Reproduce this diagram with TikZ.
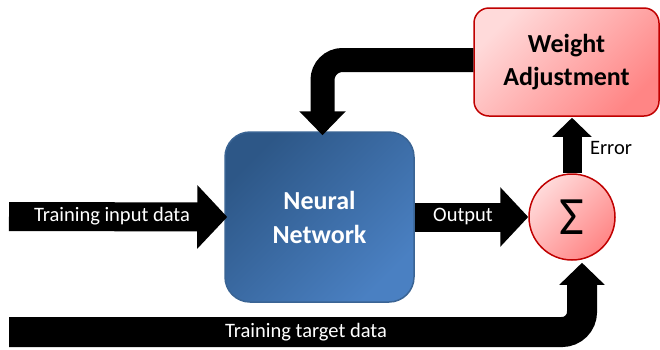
\documentclass[tikz,border=0pt]{standalone}
\usepackage{fontspec}
\setmainfont{Carlito}
\usetikzlibrary{arrows.meta,calc}
\definecolor{nnA}{HTML}{2D5787}
\definecolor{nnB}{HTML}{4A80C2}
\definecolor{nnBorder}{HTML}{3A6494}
\definecolor{rdA}{HTML}{FFDADA}
\definecolor{rdB}{HTML}{FF8585}
\definecolor{rdBorder}{HTML}{C00000}
\tikzset{
  nnbox/.style={draw=nnBorder, line width=1.5pt, rounded corners=25pt,
    top color=nnA, bottom color=nnB, shading angle=45,
    minimum width=189pt, minimum height=170pt, inner sep=0pt,
    text=white, font=\fontsize{26}{34}\selectfont\bfseries, align=center},
  wabox/.style={draw=rdBorder, line width=1.5pt, rounded corners=15pt,
    top color=rdA, bottom color=rdB, shading angle=45,
    minimum width=185pt, minimum height=108pt, inner sep=0pt,
    font=\fontsize{26}{33}\selectfont\bfseries, align=center},
  sumnode/.style={circle, draw=rdBorder, line width=1.5pt,
    top color=rdA, bottom color=rdB, shading angle=45,
    minimum size=86pt, inner sep=0pt, font=\fontsize{54}{54}\selectfont},
  wlabel/.style={text=white, font=\fontsize{20.5}{24}\selectfont, inner sep=0pt},
  blabel/.style={text=black, font=\fontsize{20.5}{24}\selectfont, inner sep=0pt},
  blockarrow/.style={draw=black, line cap=butt}
}
\begin{document}
\begin{tikzpicture}[x=1pt,y=-1pt]
\useasboundingbox (0,0) rectangle (660,349);
\fill[white] (0,0) rectangle (660,349);

\node[nnbox] (nn) at (319.5,217) {Neural\\Network};
\node[wabox] (wa) at (566.5,62) {Weight\\Adjustment};
\node[sumnode] (sigma) at (572,217) {Σ};

\coordinate (istart) at (9,216.5);
\coordinate (tstart) at (9,332);
\coordinate (tgtend) at ($(sigma.south)+(10,2)$);

% input arrow
\draw[blockarrow, line width=29pt, -{Triangle[length=30pt,width=62pt]}]
  (istart) -- ($(nn.west)+(3,0)$);
% output arrow
\draw[blockarrow, line width=29pt, -{Triangle[length=28pt,width=58pt]}]
  (nn.east) -- (sigma.west);
% error arrow
\draw[blockarrow, line width=19pt, -{Triangle[length=19pt,width=38pt]}]
  (sigma.north) -- ($(sigma.north |- wa.south)+(0,1)$);
% feedback arrow
\draw[blockarrow, line width=24pt, rounded corners=20pt, -{Triangle[length=24pt,width=45pt]}]
  ($(wa.west)+(0,-2)$) -| ($(nn.north)+(3,4)$);
% target arrow
\draw[blockarrow, line width=30pt, rounded corners=20pt, -{Triangle[length=22pt,width=44pt]}]
  (tstart) -| (tgtend);

\node[wlabel] (inlab) at (112,216) {Training input data};
\node[wlabel] (outlab) at (463,216) {Output};
\node[wlabel] (tlab) at (306,332) {Training target data};
\node[blabel] (errlab) at (611,148) {Error};
\end{tikzpicture}
\end{document}
